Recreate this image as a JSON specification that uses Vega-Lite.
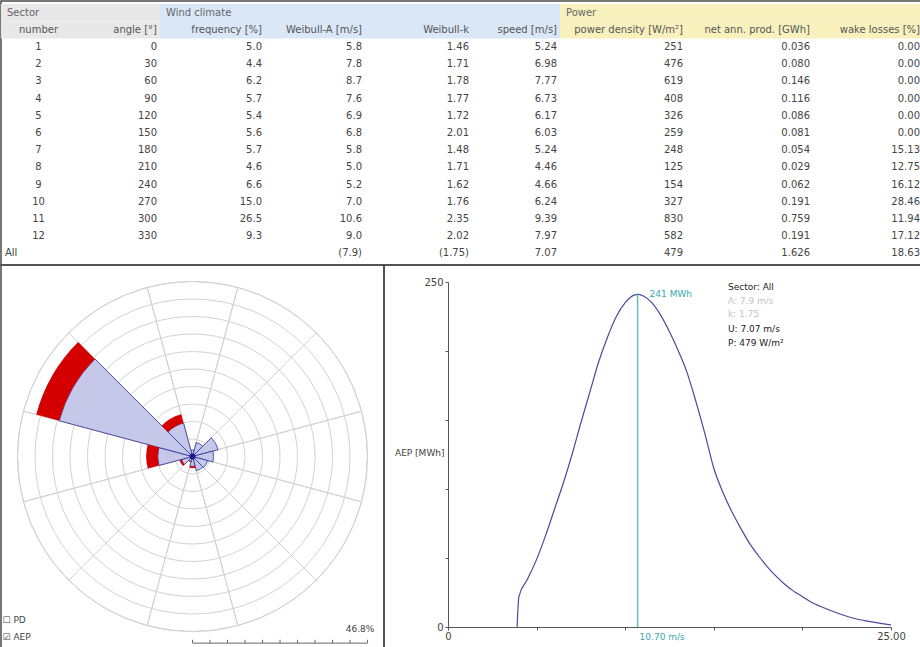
{
  "$schema": "https://vega.github.io/schema/vega-lite/v6.json",
  "padding": 0,
  "spacing": 0,
  "bounds": "flush",
  "background": "white",
  "config": {
    "font": "DejaVu Sans",
    "view": {"stroke": "#4a4a4a", "strokeWidth": 1.5},
    "text": {"font": "DejaVu Sans", "fontSize": 10, "color": "#444"}
  },
  "datasets": {
    "table": [
      {"row": "1", "angle": "0", "freq": "5.0", "wa": "5.8", "wk": "1.46", "speed": "5.24", "pd": "251", "net": "0.036", "wake": "0.00"},
      {"row": "2", "angle": "30", "freq": "4.4", "wa": "7.8", "wk": "1.71", "speed": "6.98", "pd": "476", "net": "0.080", "wake": "0.00"},
      {"row": "3", "angle": "60", "freq": "6.2", "wa": "8.7", "wk": "1.78", "speed": "7.77", "pd": "619", "net": "0.146", "wake": "0.00"},
      {"row": "4", "angle": "90", "freq": "5.7", "wa": "7.6", "wk": "1.77", "speed": "6.73", "pd": "408", "net": "0.116", "wake": "0.00"},
      {"row": "5", "angle": "120", "freq": "5.4", "wa": "6.9", "wk": "1.72", "speed": "6.17", "pd": "326", "net": "0.086", "wake": "0.00"},
      {"row": "6", "angle": "150", "freq": "5.6", "wa": "6.8", "wk": "2.01", "speed": "6.03", "pd": "259", "net": "0.081", "wake": "0.00"},
      {"row": "7", "angle": "180", "freq": "5.7", "wa": "5.8", "wk": "1.48", "speed": "5.24", "pd": "248", "net": "0.054", "wake": "15.13"},
      {"row": "8", "angle": "210", "freq": "4.6", "wa": "5.0", "wk": "1.71", "speed": "4.46", "pd": "125", "net": "0.029", "wake": "12.75"},
      {"row": "9", "angle": "240", "freq": "6.6", "wa": "5.2", "wk": "1.62", "speed": "4.66", "pd": "154", "net": "0.062", "wake": "16.12"},
      {"row": "10", "angle": "270", "freq": "15.0", "wa": "7.0", "wk": "1.76", "speed": "6.24", "pd": "327", "net": "0.191", "wake": "28.46"},
      {"row": "11", "angle": "300", "freq": "26.5", "wa": "10.6", "wk": "2.35", "speed": "9.39", "pd": "830", "net": "0.759", "wake": "11.94"},
      {"row": "12", "angle": "330", "freq": "9.3", "wa": "9.0", "wk": "2.02", "speed": "7.97", "pd": "582", "net": "0.191", "wake": "17.12"},
      {"row": "All", "angle": "", "freq": "", "wa": "(7.9)", "wk": "(1.75)", "speed": "7.07", "pd": "479", "net": "1.626", "wake": "18.63"}
    ],
    "cols": [
      {"field": "angle", "k": 2, "label": "angle [°]"},
      {"field": "freq", "k": 3, "label": "frequency [%]"},
      {"field": "wa", "k": 4, "label": "Weibull-A [m/s]"},
      {"field": "wk", "k": 5, "label": "Weibull-k"},
      {"field": "speed", "k": 6, "label": "speed [m/s]"},
      {"field": "pd", "k": 7, "label": "power density [W/m²]"},
      {"field": "net", "k": 8, "label": "net ann. prod. [GWh]"},
      {"field": "wake", "k": 9, "label": "wake losses [%]"}
    ],
    "hdr": [
      {"row": "h1", "g": "Sector", "a": 0, "b": 2},
      {"row": "h1", "g": "Wind climate", "a": 2, "b": 6},
      {"row": "h1", "g": "Power", "a": 6, "b": 9},
      {"row": "h2", "g": "Sector", "a": 0, "b": 2},
      {"row": "h2", "g": "Wind climate", "a": 2, "b": 6},
      {"row": "h2", "g": "Power", "a": 6, "b": 9}
    ],
    "rose": [
      {"angle": 0, "net": 0.036, "gross": 0.036},
      {"angle": 30, "net": 0.080, "gross": 0.080},
      {"angle": 60, "net": 0.146, "gross": 0.146},
      {"angle": 90, "net": 0.116, "gross": 0.116},
      {"angle": 120, "net": 0.086, "gross": 0.086},
      {"angle": 150, "net": 0.081, "gross": 0.081},
      {"angle": 180, "net": 0.054, "gross": 0.064},
      {"angle": 210, "net": 0.029, "gross": 0.033},
      {"angle": 240, "net": 0.062, "gross": 0.074},
      {"angle": 270, "net": 0.191, "gross": 0.255},
      {"angle": 300, "net": 0.759, "gross": 0.89},
      {"angle": 330, "net": 0.191, "gross": 0.24}
    ],
    "rings": [{"r": 0.09625}, {"r": 0.1925}, {"r": 0.28875}, {"r": 0.385}, {"r": 0.48125}, {"r": 0.5775}, {"r": 0.67375}, {"r": 0.77}, {"r": 0.86625}, {"r": 0.9625}],
    "ticks": [{"t": 0}, {"t": 4.68}, {"t": 9.36}, {"t": 14.04}, {"t": 18.72}, {"t": 23.4}, {"t": 28.08}, {"t": 32.76}, {"t": 37.44}, {"t": 42.12}, {"t": 46.8}],
    "aep": [
      {"speed": 3.9, "aep": 0}, {"speed": 4.0, "aep": 22}, {"speed": 4.5, "aep": 35}, {"speed": 5.0, "aep": 49},
      {"speed": 5.5, "aep": 66}, {"speed": 6.0, "aep": 85}, {"speed": 6.5, "aep": 104}, {"speed": 7.0, "aep": 125},
      {"speed": 7.5, "aep": 148}, {"speed": 8.0, "aep": 170}, {"speed": 8.5, "aep": 192}, {"speed": 9.0, "aep": 210},
      {"speed": 9.5, "aep": 225}, {"speed": 10.0, "aep": 235}, {"speed": 10.5, "aep": 240.5}, {"speed": 10.7, "aep": 241},
      {"speed": 11.0, "aep": 240}, {"speed": 11.5, "aep": 235}, {"speed": 12.0, "aep": 226}, {"speed": 12.5, "aep": 214},
      {"speed": 13.0, "aep": 200}, {"speed": 13.5, "aep": 184}, {"speed": 14.0, "aep": 163}, {"speed": 14.5, "aep": 140},
      {"speed": 15.0, "aep": 115}, {"speed": 15.5, "aep": 98}, {"speed": 16.0, "aep": 84}, {"speed": 16.5, "aep": 72},
      {"speed": 17.0, "aep": 61}, {"speed": 17.5, "aep": 52}, {"speed": 18.0, "aep": 44}, {"speed": 18.5, "aep": 37},
      {"speed": 19.0, "aep": 31}, {"speed": 19.5, "aep": 26}, {"speed": 20.0, "aep": 22}, {"speed": 20.5, "aep": 18},
      {"speed": 21.0, "aep": 15}, {"speed": 22.0, "aep": 10}, {"speed": 23.0, "aep": 6}, {"speed": 24.0, "aep": 3.5},
      {"speed": 25.0, "aep": 1.5}
    ],
    "peak": [{"speed": 10.7, "aep": 241, "top": "241 MWh", "bottom": "10.70 m/s"}],
    "info": [
      {"label": "Sector: All", "kind": "main", "y": 246.5},
      {"label": "A: 7.9 m/s", "kind": "faint", "y": 236.5},
      {"label": "k: 1.75", "kind": "faint", "y": 226.5},
      {"label": "U: 7.07 m/s", "kind": "main", "y": 216},
      {"label": "P: 479 W/m²", "kind": "main", "y": 205.5}
    ]
  },
  "vconcat": [
    {
      "width": 920,
      "height": 264,
      "layer": [
        {
          "data": {"name": "hdr"},
          "mark": {"type": "rect"},
          "encoding": {
            "x": {"field": "a", "type": "quantitative", "axis": null,
              "scale": {"type": "linear", "domain": [0, 1, 2, 3, 4, 5, 6, 7, 8, 9], "range": [0, 75, 159, 264, 364, 471, 559, 685, 812, 922], "nice": false, "zero": false}},
            "x2": {"field": "b"},
            "y": {"field": "row", "type": "nominal", "axis": null,
              "scale": {"type": "band", "domain": ["h1", "h2", "1", "2", "3", "4", "5", "6", "7", "8", "9", "10", "11", "12", "All"], "range": [3, 261], "paddingInner": 0, "paddingOuter": 0}},
            "color": {"field": "g", "type": "nominal", "legend": null,
              "scale": {"domain": ["Sector", "Wind climate", "Power"], "range": ["#e8e8e8", "#d9e7f7", "#f8f1bd"]}}
          }
        },
        {
          "data": {"name": "hdr"},
          "transform": [{"filter": "datum.row == 'h1'"}],
          "mark": {"type": "text", "align": "left", "dx": 6, "color": "#666", "fontSize": 10},
          "encoding": {
            "x": {"field": "a", "type": "quantitative"},
            "y": {"field": "row", "type": "nominal"},
            "text": {"field": "g"}
          }
        },
        {
          "data": {"name": "cols"},
          "mark": {"type": "text", "align": "right", "dx": -3, "color": "#555", "clip": true},
          "encoding": {
            "x": {"field": "k", "type": "quantitative"},
            "y": {"datum": "h2", "type": "nominal"},
            "text": {"field": "label"}
          }
        },
        {
          "data": {"values": [{"label": "number", "k": 0.5}]},
          "mark": {"type": "text", "align": "center", "color": "#555"},
          "encoding": {
            "x": {"field": "k", "type": "quantitative"},
            "y": {"datum": "h2", "type": "nominal"},
            "text": {"field": "label"}
          }
        },
        {
          "data": {"name": "table"},
          "transform": [
            {"fold": ["angle", "freq", "wa", "wk", "speed", "pd", "net", "wake"], "as": ["key", "value"]},
            {"lookup": "key", "from": {"data": {"name": "cols"}, "key": "field", "fields": ["k"]}}
          ],
          "mark": {"type": "text", "align": "right", "dx": -3, "clip": true},
          "encoding": {
            "x": {"field": "k", "type": "quantitative"},
            "y": {"field": "row", "type": "nominal"},
            "text": {"field": "value"}
          }
        },
        {
          "data": {"name": "table"},
          "transform": [{"filter": "datum.row != 'All'"}],
          "mark": {"type": "text", "align": "center"},
          "encoding": {
            "x": {"datum": 0.5, "type": "quantitative"},
            "y": {"field": "row", "type": "nominal"},
            "text": {"field": "row"}
          }
        },
        {
          "data": {"name": "table"},
          "transform": [{"filter": "datum.row == 'All'"}],
          "mark": {"type": "text", "align": "left", "dx": 4},
          "encoding": {
            "x": {"datum": 0, "type": "quantitative"},
            "y": {"field": "row", "type": "nominal"},
            "text": {"field": "row"}
          }
        }
      ]
    },
    {
      "hconcat": [
        {
          "width": 383,
          "height": 383,
          "layer": [
            {
              "data": {"name": "rings"},
              "mark": {"type": "arc", "theta": 0, "theta2": 6.2832, "filled": false, "stroke": "#d2d2d2", "strokeWidth": 1},
              "encoding": {
                "radius": {"field": "r", "type": "quantitative", "stack": null, "scale": {"type": "linear", "domain": [0, 0.9625], "range": [0, 175], "zero": true, "nice": false}}
              }
            },
            {
              "data": {"name": "rose"},
              "mark": {"type": "arc", "filled": false, "stroke": "#d2d2d2", "strokeWidth": 1, "radius": 175, "thetaOffset": -0.2618, "theta2Offset": 0.2618},
              "encoding": {
                "theta": {"field": "angle", "type": "quantitative", "stack": null, "scale": {"type": "linear", "domain": [0, 360], "range": [0, 6.2832]}},
                "theta2": {"field": "angle"}
              }
            },
            {
              "data": {"name": "rose"},
              "mark": {"type": "arc", "fill": "#c6c8ea", "stroke": "#2e2e98", "strokeWidth": 0.8, "thetaOffset": -0.2618, "theta2Offset": 0.2618},
              "encoding": {
                "theta": {"field": "angle", "type": "quantitative", "stack": null},
                "theta2": {"field": "angle"},
                "radius": {"field": "net", "type": "quantitative", "stack": null}
              }
            },
            {
              "data": {"name": "rose"},
              "transform": [{"filter": "datum.gross > datum.net"}],
              "mark": {"type": "arc", "fill": "#d40000", "thetaOffset": -0.2618, "theta2Offset": 0.2618},
              "encoding": {
                "theta": {"field": "angle", "type": "quantitative", "stack": null},
                "theta2": {"field": "angle"},
                "radius": {"field": "gross", "type": "quantitative", "stack": null},
                "radius2": {"field": "net"}
              }
            },
            {
              "data": {"values": [{"r": 1}]},
              "mark": {"type": "arc", "theta": 0, "theta2": 6.2832, "radius": 3, "fill": "#1b1b8c"},
              "encoding": {}
            },
            {
              "data": {"values": [{"label": "☐ PD", "x": -50.8, "y": -43.7}, {"label": "☑ AEP", "x": -50.8, "y": -48.2}]},
              "mark": {"type": "text", "align": "left", "baseline": "middle", "fontSize": 9, "color": "#444"},
              "encoding": {
                "x": {"field": "x", "type": "quantitative", "axis": null, "scale": {"domain": [-51.2, 51.2], "nice": false, "zero": false}},
                "y": {"field": "y", "type": "quantitative", "axis": null, "scale": {"domain": [-51.2, 51.2], "nice": false, "zero": false}},
                "text": {"field": "label"}
              }
            },
            {
              "data": {"values": [{"label": "46.8%", "x": 48.6, "y": -46.1}]},
              "mark": {"type": "text", "align": "right", "baseline": "middle", "fontSize": 9, "color": "#444"},
              "encoding": {
                "x": {"field": "x", "type": "quantitative"},
                "y": {"field": "y", "type": "quantitative"},
                "text": {"field": "label"}
              }
            },
            {
              "data": {"values": [{"a": 0, "b": 46.8, "y": -49.9}]},
              "mark": {"type": "rule", "color": "#666", "strokeWidth": 1},
              "encoding": {
                "x": {"field": "a", "type": "quantitative"},
                "x2": {"field": "b"},
                "y": {"field": "y", "type": "quantitative"}
              }
            },
            {
              "data": {"name": "ticks"},
              "mark": {"type": "rule", "color": "#666", "strokeWidth": 1},
              "encoding": {
                "x": {"field": "t", "type": "quantitative"},
                "y": {"datum": -49.9, "type": "quantitative"},
                "y2": {"datum": -49.0}
              }
            }
          ]
        },
        {
          "width": 537,
          "height": 383,
          "layer": [
            {
              "data": {"name": "aep"},
              "mark": {"type": "line", "color": "#4a4a9c", "strokeWidth": 1.2, "interpolate": "monotone"},
              "encoding": {
                "x": {"field": "speed", "type": "quantitative",
                  "scale": {"domain": [0, 25], "range": [64, 507], "nice": false, "zero": false},
                  "axis": {"orient": "bottom", "offset": -21, "values": [0, 5, 10, 15, 20, 25], "labelExpr": "datum.value == 0 ? '0' : (datum.value == 25 ? '25.00' : '')", "title": null, "grid": false, "domainColor": "#555", "tickColor": "#555", "tickSize": 3, "labelColor": "#444", "labelFontSize": 10, "labelPadding": 1, "labelFlush": false, "labelOverlap": false}},
                "y": {"field": "aep", "type": "quantitative",
                  "scale": {"domain": [0, 250], "range": [362, 17], "nice": false, "zero": true},
                  "axis": {"orient": "left", "offset": -64, "values": [0, 50, 100, 150, 200, 250], "labelExpr": "datum.value == 0 || datum.value == 250 ? datum.label : ''", "title": "AEP [MWh]", "titleAngle": 0, "titleAlign": "right", "titleBaseline": "middle", "titleX": -4, "titleY": 187, "titleFontWeight": "normal", "titleFontSize": 9, "titleColor": "#444", "grid": false, "domainColor": "#555", "tickColor": "#555", "tickSize": 3, "labelColor": "#444", "labelFontSize": 10, "labelPadding": 2, "labelOverlap": false}}
              }
            },
            {
              "data": {"name": "peak"},
              "mark": {"type": "rule", "color": "#5cbfbf", "strokeWidth": 1.5},
              "encoding": {
                "x": {"field": "speed", "type": "quantitative"},
                "y": {"field": "aep", "type": "quantitative"},
                "y2": {"datum": 0}
              }
            },
            {
              "data": {"name": "peak"},
              "mark": {"type": "text", "align": "left", "baseline": "middle", "dx": 12, "color": "#3aa8a8", "fontSize": 9},
              "encoding": {
                "x": {"field": "speed", "type": "quantitative"},
                "y": {"field": "aep", "type": "quantitative"},
                "text": {"field": "top"}
              }
            },
            {
              "data": {"name": "peak"},
              "mark": {"type": "text", "align": "left", "baseline": "middle", "dx": 2, "dy": 10, "color": "#3aa8a8", "fontSize": 9},
              "encoding": {
                "x": {"field": "speed", "type": "quantitative"},
                "y": {"datum": 0, "type": "quantitative"},
                "text": {"field": "bottom"}
              }
            },
            {
              "data": {"name": "info"},
              "transform": [{"filter": "datum.kind == 'main'"}],
              "mark": {"type": "text", "align": "left", "baseline": "middle", "fontSize": 9, "color": "#222"},
              "encoding": {
                "x": {"datum": 15.8, "type": "quantitative"},
                "y": {"field": "y", "type": "quantitative"},
                "text": {"field": "label"}
              }
            },
            {
              "data": {"name": "info"},
              "transform": [{"filter": "datum.kind == 'faint'"}],
              "mark": {"type": "text", "align": "left", "baseline": "middle", "fontSize": 9, "color": "#c4c4c4"},
              "encoding": {
                "x": {"datum": 15.8, "type": "quantitative"},
                "y": {"field": "y", "type": "quantitative"},
                "text": {"field": "label"}
              }
            }
          ]
        }
      ],
      "spacing": 0,
      "bounds": "flush"
    }
  ]
}
